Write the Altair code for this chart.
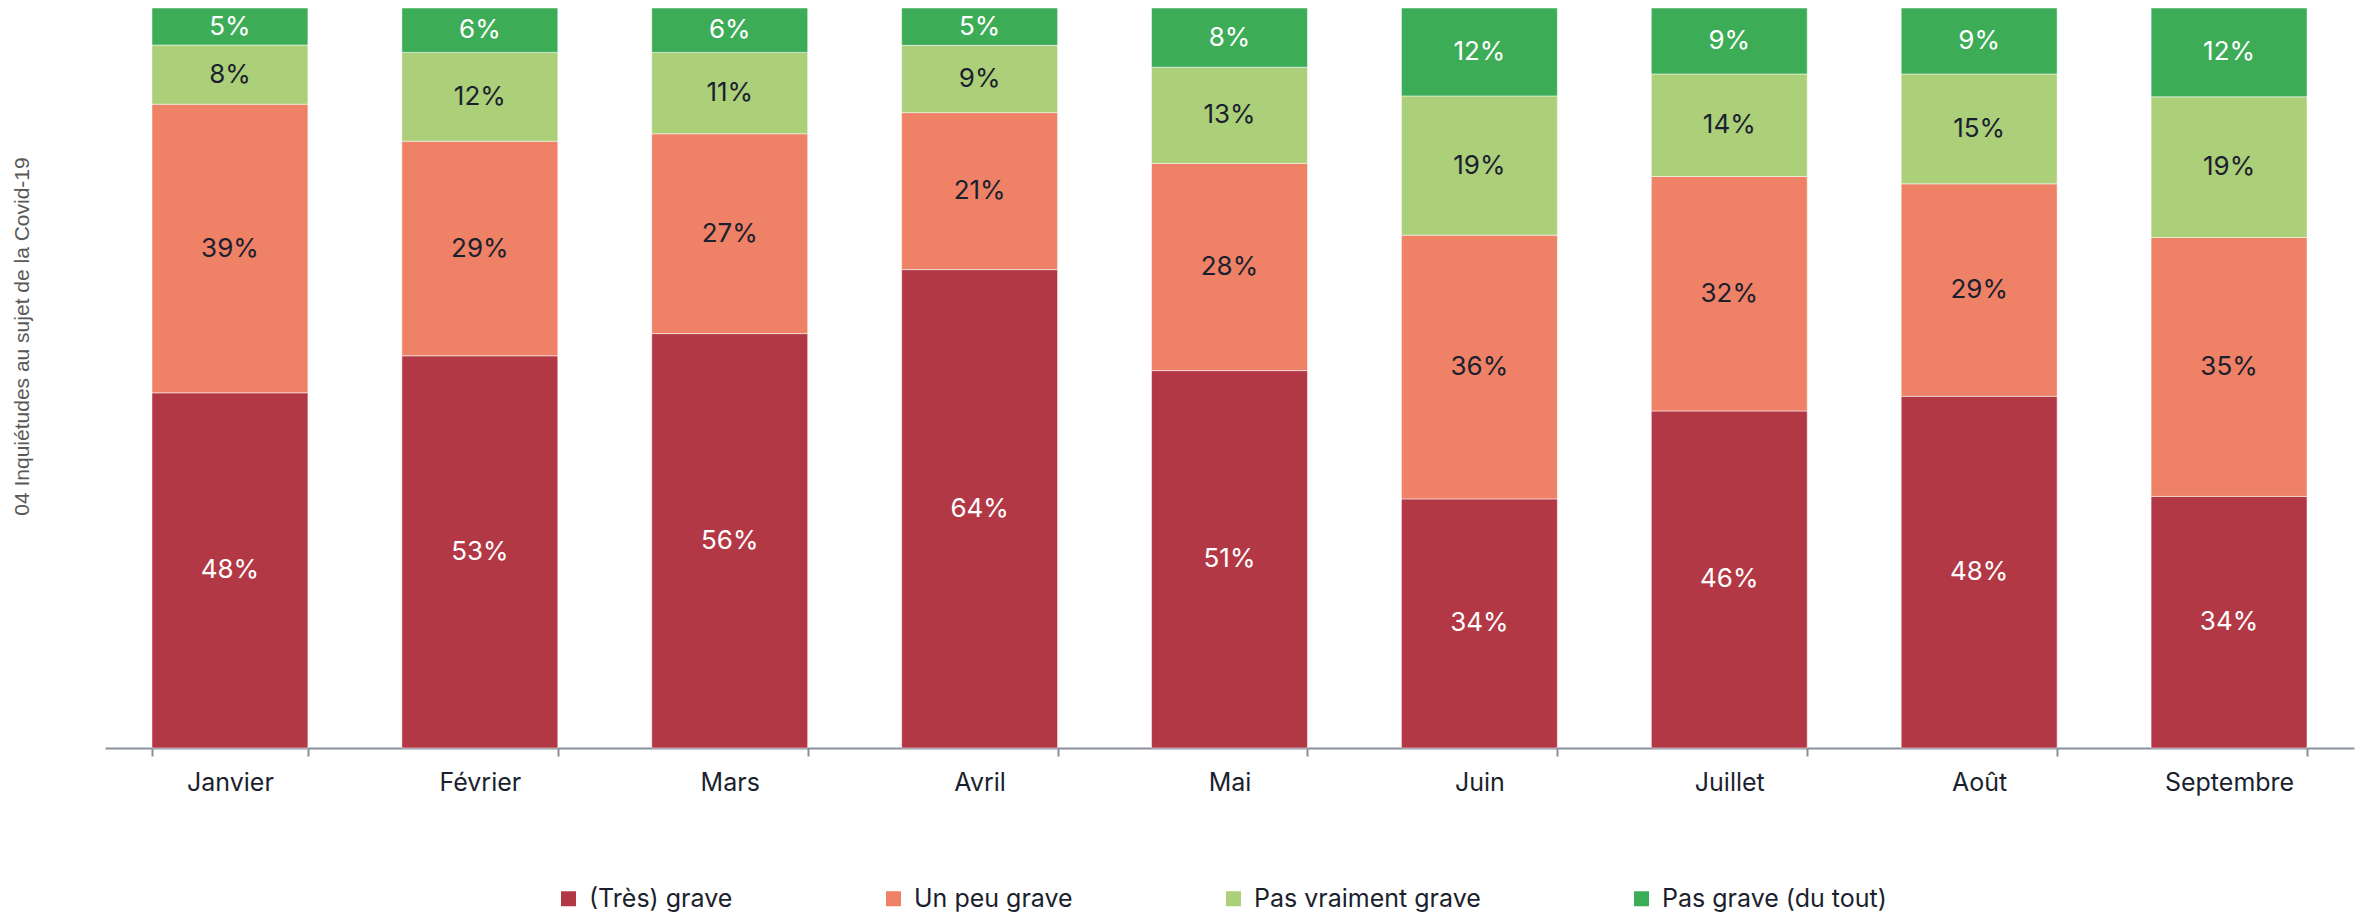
import altair as alt
import pandas as pd

months = ["Janvier", "Février", "Mars", "Avril", "Mai", "Juin", "Juillet", "Août", "Septembre"]
categories = ["(Très) grave", "Un peu grave", "Pas vraiment grave", "Pas grave (du tout)"]
tres_grave = [48, 53, 56, 64, 51, 34, 46, 48, 34]
un_peu_grave = [39, 29, 27, 21, 28, 36, 32, 29, 35]
pas_vraiment_grave = [8, 12, 11, 9, 13, 19, 14, 15, 19]
pas_grave = [5, 6, 6, 5, 8, 12, 9, 9, 12]
colors = ["#B33845", "#EE8166", "#ACCF79", "#3DAC57"]
DARK = "#1B1F2E"

series = [tres_grave, un_peu_grave, pas_vraiment_grave, pas_grave]
rows = []
for ci, (cat, vals) in enumerate(zip(categories, series)):
    for m, v in zip(months, vals):
        rows.append({"month": m, "category": cat, "value": v, "order": ci})
df = pd.DataFrame(rows)

base = alt.Chart(df).transform_stack(
    stack="value",
    groupby=["month"],
    as_=["y0", "y1"],
    offset="normalize",
    sort=[alt.SortField("order", order="ascending")],
).transform_calculate(
    mid="(datum.y0 + datum.y1) / 2",
    label="datum.value + '%'",
    tc=f"(datum.order == 0 || datum.order == 3) ? 'white' : '{DARK}'",
)

x_enc = alt.X(
    "month:N",
    sort=months,
    scale=alt.Scale(paddingInner=0.376, paddingOuter=0.188),
    axis=alt.Axis(
        title=None,
        labelAngle=0,
        tickBand="extent",
        domainColor="#8A8F99",
        domainWidth=2,
        tickColor="#8A8F99",
        tickWidth=2,
        tickSize=8,
        labelFont="Inter",
        labelFontSize=25,
        labelColor=DARK,
        labelPadding=14,
        grid=False,
    ),
)

y_axis = alt.Axis(
    title="04 Inquiétudes au sujet de la Covid-19",
    labels=False,
    ticks=False,
    domain=False,
    grid=False,
    titleFont="Liberation Sans",
    titleFontSize=21,
    titleFontWeight="normal",
    titleColor="#595959",
    titleAngle=270,
    titleAlign="center",
    titleBaseline="middle",
    titleX=-83,
    titleY=328,
)

bars = base.mark_bar(stroke="white", strokeWidth=1, strokeOpacity=0.5).encode(
    x=x_enc,
    y=alt.Y("y0:Q", scale=alt.Scale(domain=[0, 1]), axis=y_axis),
    y2="y1:Q",
    color=alt.Color(
        "category:N",
        sort=categories,
        scale=alt.Scale(domain=categories, range=colors),
        legend=alt.Legend(
            title=None,
            orient="none",
            direction="horizontal",
            columns=4,
            legendX=451,
            legendY=878,
            symbolType="square",
            symbolSize=225,
            symbolStrokeWidth=0,
            labelFont="Inter",
            labelFontSize=25,
            labelColor=DARK,
            labelOffset=8,
            labelLimit=600,
            columnPadding=148,
        ),
    ),
)

texts = base.mark_text(font="Inter", fontSize=26).encode(
    x=alt.X("month:N", sort=months),
    y=alt.Y("mid:Q"),
    text="label:N",
    color=alt.Color("tc:N", scale=None),
)

chart = alt.layer(bars, texts).properties(
    width=2249,
    height=740,
    padding={"left": 97, "top": 0, "right": 2, "bottom": 166},
    autosize=alt.AutoSizeParams(type="none"),
).configure_view(stroke=None)

chart.save("out.html", embed_options={"renderer": "svg", "actions": False})
